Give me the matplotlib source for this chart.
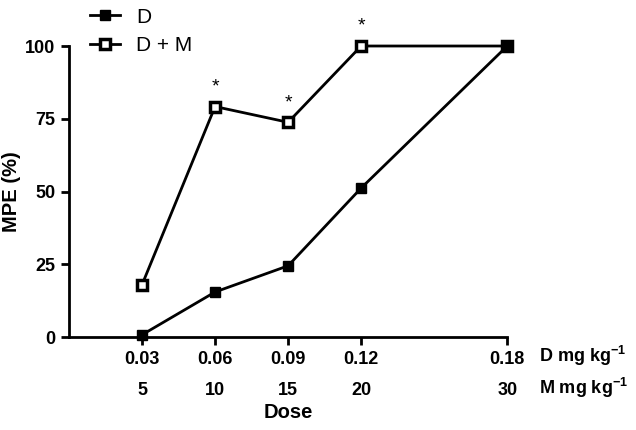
import matplotlib.pyplot as plt
import numpy as np

plt.rcParams['font.family'] = ['Liberation Sans', 'DejaVu Sans']
plt.rcParams['mathtext.fontset'] = 'custom'
plt.rcParams['mathtext.bf'] = 'Liberation Sans:bold'
plt.rcParams['mathtext.rm'] = 'Liberation Sans:bold'

d_dose = [0.03, 0.06, 0.09, 0.12, 0.18]
m_dose = ['5', '10', '15', '20', '30']
d_only = [0.8, 15.5, 24.5, 51.2, 100]
d_plus_m = [18, 79.2, 73.8, 100, 100]
significant = [False, True, True, True, False]

fig = plt.figure(figsize=(6.36, 4.30), dpi=100)
ax = fig.add_axes([0.1085, 0.216, 0.689, 0.677])

ax.plot(d_dose, d_plus_m, color='black', lw=2, marker='s', ms=6.5,
        mfc='white', mec='black', mew=2.5, label='D + M', clip_on=False, zorder=3)
ax.plot(d_dose, d_only, color='black', lw=2, marker='s', ms=7.2,
        mfc='black', mec='black', label='D', clip_on=False, zorder=4)

# asterisks over the significant D + M points
for x, y, s in zip(d_dose, d_plus_m, significant):
    if s:
        ax.annotate('*', (x, y), xytext=(0, 8), textcoords='offset points',
                    ha='center', va='bottom', fontsize=14)

ax.set_xlim(0, 0.18)
ax.set_ylim(0, 100)
ax.set_yticks([0, 25, 50, 75, 100])
ax.set_xticks(d_dose, [f'{v:.2f}' for v in d_dose])

for side in ['top', 'right']:
    ax.spines[side].set_visible(False)
for side in ['left', 'bottom']:
    ax.spines[side].set_linewidth(2)
ax.tick_params(width=2, length=6, labelsize=13, pad=4)
for lab in ax.get_xticklabels() + ax.get_yticklabels():
    lab.set_fontweight('bold')

sec = ax.secondary_xaxis('bottom')
sec.set_xticks(d_dose, m_dose, fontweight='bold', fontsize=13)
sec.tick_params(length=0, pad=32)
sec.spines['bottom'].set_visible(False)
sec.set_xlabel('Dose', fontsize=14.5, fontweight='bold', labelpad=3)

ax.set_ylabel('MPE (%)', fontsize=14.5, fontweight='bold', labelpad=3)

ax.text(1.073, -0.065, r'D mg kg$^{\mathbf{-1}}$', transform=ax.transAxes, fontsize=13,
        fontweight='bold', va='center', ha='left')
ax.text(1.073, -0.175, r'M mg kg$^{\mathbf{-1}}$', transform=ax.transAxes, fontsize=13,
        fontweight='bold', va='center', ha='left')

h, l = ax.get_legend_handles_labels()
ax.legend(h[::-1], l[::-1], loc='upper left', bbox_to_anchor=(0.03, 1.16),
          frameon=False, fontsize=15, handlelength=1.4, handletextpad=0.8,
          labelspacing=0.45, borderaxespad=0)

fig.savefig('out.png', dpi=100)
